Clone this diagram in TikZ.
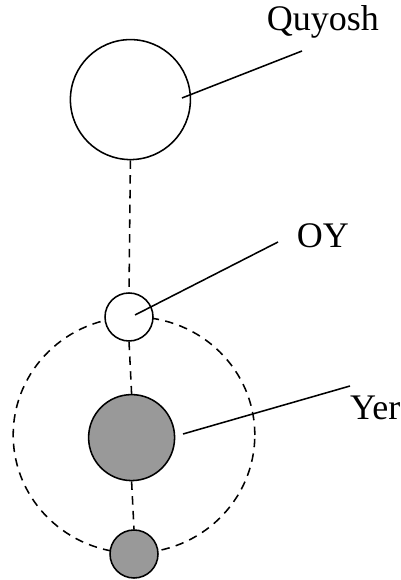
\documentclass[tikz,border=0pt]{standalone}
\usepackage{fontspec}
\setmainfont{Liberation Serif}
\usepackage{xcolor}
\usepackage{tikz}
\usetikzlibrary{positioning, calc}
\definecolor{bodygrey}{HTML}{999999}

\tikzset{
  body/.style={circle, draw=black, line width=1.1pt, inner sep=0pt},
  lbl/.style={font=\fontsize{25.6}{28}\selectfont, inner sep=0pt},
  axisline/.style={line width=1.1pt, dash pattern=on 6pt off 4.5pt},
  leader/.style={line width=1.1pt}
}

\begin{document}
\begin{tikzpicture}[x=1cm, y=1cm]
\useasboundingbox (0,0) rectangle (10.025,14.5);
% orbit of the moon
\draw[axisline] (3.35,3.625) ellipse [x radius=3.02, y radius=2.95];
% bodies
\node[body, fill=white, minimum size=3.0cm] (sun) at (3.26,12.01) {};
\node[body, fill=white, minimum size=1.2cm] (moon) at (3.225,6.575) {};
\node[body, fill=bodygrey, minimum size=2.15cm] (earth) at (3.29,3.56) {};
\node[body, fill=bodygrey, minimum size=1.2cm] (newmoon) at (3.35,0.65) {};
% line of centres
\draw[axisline] (sun.south) -- (moon.north);
\draw[axisline] (moon.south) -- (earth.north);
\draw[axisline] (earth.south) -- (newmoon.north);
% labels
\node[lbl] (quyosh) at (8.07,13.95) {Quyosh};
\node[lbl] (oy) at (8.07,8.6) {OY};
\node[lbl] (yer) at (9.38,4.3) {Yer};
\coordinate (quyoshend) at (7.55,13.225);
\coordinate (oyend) at (6.95,8.45);
\coordinate (yerend) at (8.75,4.85);
\draw[leader] ($(sun.center)+(1.29,0.04)$) -- (quyoshend);
\draw[leader] ($(moon.center)+(0.15,0.05)$) -- (oyend);
\draw[leader] ($(earth.center)+(1.285,0.09)$) -- (yerend);
\end{tikzpicture}
\end{document}
